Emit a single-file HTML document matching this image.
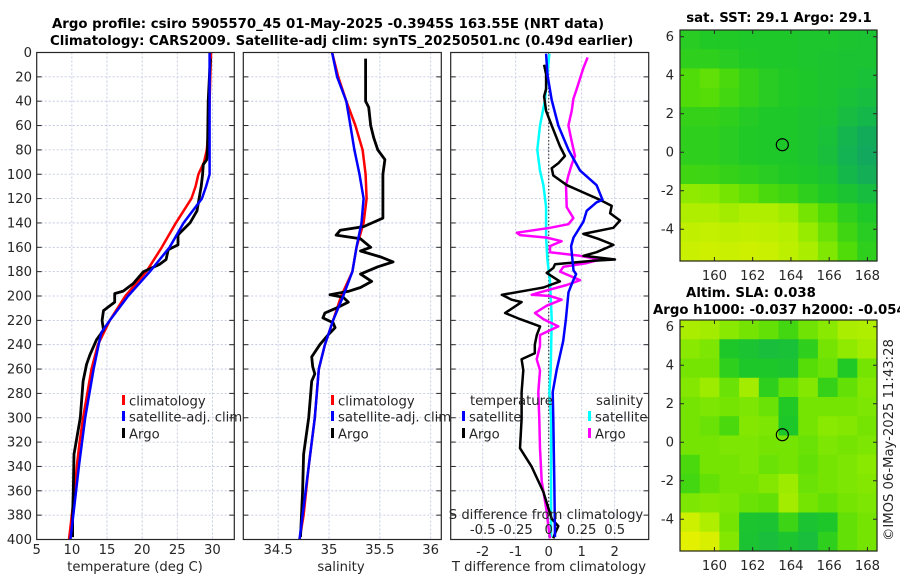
<!DOCTYPE html>
<html><head><meta charset="utf-8">
<style>
html,body{margin:0;padding:0;background:#fff;}
svg{display:block;font-family:"DejaVu Sans","Liberation Sans",sans-serif;}
.tk{font-size:13.2px;fill:#262626;}
.tt{font-size:13.3px;font-weight:bold;fill:#000;}
</style></head>
<body>
<svg id="fig" width="900" height="580" viewBox="0 0 900 580" xmlns="http://www.w3.org/2000/svg">
<rect width="900" height="580" fill="#fff"/>
<text class="tt" x="52" y="28">Argo profile: csiro 5905570_45 01-May-2025 -0.3945S 163.55E (NRT data)</text>
<text class="tt" x="50" y="45">Climatology: CARS2009. Satellite-adj clim: synTS_20250501.nc (0.49d earlier)</text>
<g id="layer"></g>
<text class="tt" x="779" y="22" text-anchor="middle">sat. SST: 29.1 Argo: 29.1</text>
<text class="tt" x="751" y="297" text-anchor="middle">Altim. SLA: 0.038</text>
<text class="tt" x="653" y="314">Argo h1000: -0.037 h2000: -0.054</text>
<text class="tk" transform="translate(893,440) rotate(-90)" text-anchor="middle">©IMOS 06-May-2025 11:43:28</text>
</svg>
<script>
// ---- data ----
const depthTicks = [0,20,40,60,80,100,120,140,160,180,200,220,240,260,280,300,320,340,360,380,400];
const tempTicks = [5,10,15,20,25,30];
const salTicks = [34.5,35,35.5,36];
const tdiffTicks = [-2,-1,0,1,2];
const sdiffTicks = [-0.5,-0.25,0,0.25,0.5];
const sdiffTickLabels = ["-0.5","-0.25","0","0.25","0.5"];

const climTDepth = [0,20,40,60,80,90,100,110,120,140,160,180,200,220,240,260,280,300,320,340,360,380,400];
const climT = [29.8,29.7,29.6,29.5,29.2,28.8,28.0,27.6,27.0,24.8,22.8,20.6,17.6,15.4,13.7,12.8,12.2,11.6,11.1,10.7,10.4,10.0,9.6];
const satTDepth = [0,50,100,110,120,140,160,180,200,220,230,240,260,280,300,340,380,400];
const satT = [29.6,29.6,29.6,29.1,28.5,25.9,23.9,21.1,18.0,15.4,14.2,13.8,13.1,12.5,11.9,11.0,10.2,9.8];
const argoTDepth = [5,40,80,88,92,100,110,130,140,148,150,158,162,170,174,180,190,196,198,205,212,220,228,236,248,256,270,300,320,330,360,380,398];
const argoT = [29.7,29.4,29.3,29.2,28.7,28.6,28.4,27.8,26.8,25.4,25.1,25.1,23.7,23.4,22.5,20.2,18.7,17.3,16.1,16.1,14.5,14.3,14.5,13.5,12.6,12.1,11.6,11.2,10.6,10.3,10.2,10.1,10.1];

const climSDepth = [0,20,40,60,80,100,120,140,160,180,200,220,240,260,300,340,380,400];
const climS = [35.03,35.09,35.17,35.26,35.33,35.36,35.37,35.34,35.27,35.23,35.12,35.04,34.96,34.90,34.86,34.80,34.75,34.71];
const satSDepth = [0,20,40,60,80,100,120,140,160,180,200,220,240,260,300,340,380,400];
const satS = [35.03,35.08,35.17,35.21,35.25,35.30,35.34,35.32,35.27,35.23,35.14,35.04,34.96,34.90,34.86,34.80,34.74,34.71];
const argoSDepth = [5,40,45,60,70,80,88,100,130,136,143,146,150,153,160,163,168,172,176,182,188,193,196,199,201,205,210,214,218,222,226,232,240,250,258,264,270,300,330,360,398];
const argoS = [35.36,35.36,35.39,35.41,35.44,35.48,35.55,35.53,35.53,35.53,35.34,35.11,35.07,35.31,35.41,35.31,35.51,35.63,35.48,35.31,35.42,35.31,35.20,35.01,35.14,35.19,35.07,34.96,34.94,35.04,35.06,34.99,34.91,34.83,34.84,34.86,34.83,34.80,34.75,34.74,34.72];

const satDTDepth = [1,18,39,60,80,97,109,121,123,130,139,152,159,179,182,188,197,219,237,261,279,301,352,398];
const satDT = [-0.08,-0.04,0.09,0.29,0.6,0.95,1.45,1.63,1.45,1.15,1.05,0.75,0.68,0.75,0.83,0.73,0.6,0.52,0.44,0.24,0.12,0.14,0.17,0.19];
const argoDTDepth = [10,18,30,36,48,60,77,85,91,95,101,109,115,121,126,132,138,144,149,153,158,164,167,170,171,174,177,181,188,193,194,199,203,205,214,219,225,232,240,247,252,261,279,301,325,340,361,383,389,395,399];
const argoDT = [-0.14,-0.08,-0.08,-0.14,-0.08,0.09,0.34,0.49,0.29,0.09,0.14,0.55,1.05,1.55,1.91,1.86,2.16,1.96,1.05,1.5,1.96,1.45,1.05,2.01,1.35,0.19,0.14,-0.06,0.34,-0.16,-0.36,-1.42,-1.12,-0.82,-1.32,-0.87,-0.26,-0.36,-0.42,-0.42,-0.82,-0.77,-0.82,-0.82,-0.87,-0.52,-0.16,0.09,0.29,0.19,0.14];
const satDSDepth = [1,18,39,60,80,97,109,127,152,170,188,219,261,279,301,352,398];
const satDS = [0.005,-0.01,-0.028,-0.066,-0.086,-0.066,-0.04,-0.02,-0.02,-0.01,0.01,0.023,0.015,0.005,0.018,0.018,0.018];
const argoDSDepth = [4,13,30,38,48,60,73,85,92,101,109,127,136,141,144,148,150,152,155,159,164,167,170,173,176,180,187,191,197,199,200,203,208,214,219,225,232,241,252,261,279,301,325,352,377,389,399];
const argoDS = [0.295,0.262,0.212,0.187,0.174,0.149,0.174,0.199,0.174,0.149,0.131,0.136,0.187,0.149,0.01,-0.242,-0.217,-0.015,0.098,0.01,0.01,0.237,0.389,0.288,0.111,0.086,0.237,0.136,-0.066,-0.129,0.01,0.098,-0.015,-0.104,-0.041,0.073,-0.066,-0.066,-0.091,-0.066,-0.079,-0.071,-0.066,-0.053,-0.015,-0.003,0.01];

const lonTicks = [160,162,164,166,168];
const latTicks = [6,4,2,0,-2,-4];
const floatLon = 163.55, floatLat = 0.39;
// map grids: 12 rows (lat 6.35 → -5.65), 10 cols (lon 158.2 → 168.5); values 0 (teal) → 1 (yellow)
const sstGrid = [
[0.38,0.36,0.36,0.35,0.35,0.34,0.33,0.33,0.32,0.30],
[0.40,0.40,0.38,0.36,0.35,0.34,0.33,0.32,0.30,0.30],
[0.50,0.55,0.48,0.42,0.38,0.36,0.34,0.32,0.30,0.28],
[0.50,0.52,0.46,0.42,0.38,0.36,0.34,0.32,0.28,0.25],
[0.42,0.42,0.40,0.37,0.35,0.34,0.32,0.30,0.24,0.20],
[0.40,0.40,0.38,0.36,0.35,0.34,0.32,0.28,0.18,0.12],
[0.40,0.40,0.38,0.36,0.35,0.34,0.32,0.26,0.16,0.10],
[0.45,0.44,0.42,0.40,0.38,0.36,0.34,0.30,0.20,0.14],
[0.70,0.68,0.62,0.55,0.48,0.45,0.40,0.36,0.30,0.25],
[0.80,0.80,0.76,0.80,0.80,0.75,0.62,0.50,0.40,0.35],
[0.85,0.86,0.84,0.85,0.84,0.82,0.72,0.58,0.45,0.38],
[0.88,0.90,0.88,0.90,0.88,0.84,0.78,0.65,0.50,0.40]];
const slaGrid = [
[0.78,0.76,0.68,0.62,0.56,0.46,0.60,0.68,0.78,0.80],
[0.68,0.64,0.34,0.30,0.26,0.28,0.40,0.62,0.70,0.76],
[0.62,0.62,0.40,0.34,0.34,0.32,0.52,0.58,0.36,0.62],
[0.66,0.74,0.58,0.76,0.40,0.56,0.66,0.42,0.56,0.66],
[0.62,0.64,0.62,0.64,0.58,0.36,0.62,0.62,0.62,0.64],
[0.62,0.58,0.48,0.66,0.64,0.34,0.62,0.68,0.66,0.62],
[0.62,0.62,0.64,0.64,0.62,0.62,0.58,0.64,0.62,0.64],
[0.48,0.62,0.62,0.64,0.58,0.62,0.56,0.62,0.64,0.68],
[0.46,0.56,0.62,0.62,0.66,0.74,0.58,0.62,0.64,0.66],
[0.64,0.66,0.64,0.58,0.56,0.76,0.62,0.56,0.62,0.64],
[0.90,0.80,0.62,0.32,0.30,0.44,0.30,0.34,0.56,0.62],
[0.98,0.94,0.66,0.30,0.26,0.32,0.26,0.40,0.56,0.62]];

// ---- layout ----
const NS = "http://www.w3.org/2000/svg";
const layer = document.getElementById('layer');
const Y0 = 52.5, Y1 = 539.5;
const yDepth = d => Y0 + d * (Y1 - Y0) / 400;
const P1 = {x0:36.7, x1:234.3}, P2 = {x0:243.3, x1:441.3}, P3 = {x0:450.7, x1:648.7};
const xTemp = t => P1.x0 + (t - 5) * 7.03;
const xSal = s => 329 + (s - 35) * 101.7;
const xTD = v => 548.7 + v * 33;
const xSD = v => 548.7 + v * 132;
const M = {x0:680, x1:877, lon0:158.2, lon1:168.5};
const xLon = l => M.x0 + (l - M.lon0) * (M.x1 - M.x0) / (M.lon1 - M.lon0);
const MAP1 = {y0:30, y1:261}, MAP2 = {y0:320, y1:551};
const yLatF = m => l => m.y0 + (6.35 - l) * (m.y1 - m.y0) / 12;

function el(tag, attrs, parent) {
  const e = document.createElementNS(NS, tag);
  for (const k in attrs) e.setAttribute(k, attrs[k]);
  (parent || layer).appendChild(e);
  return e;
}
function txt(x, y, s, anchor, cls) {
  const t = el('text', {x:x, y:y, 'text-anchor':anchor || 'middle', class:cls || 'tk'});
  t.textContent = s;
  return t;
}
function line(xs, ds, xf, color, w, name) {
  const pts = xs.map((v, i) => xf(v).toFixed(1) + ',' + yDepth(ds[i]).toFixed(1)).join(' ');
  const p = el('polyline', {points:pts, fill:'none', stroke:color, 'stroke-width':w, 'stroke-linejoin':'round'});
  
  
  return p;
}
function panel(P, xt, xf, name) {
  const g = el('g', {});
  
  
  depthTicks.forEach(d => {
    if (d > 0 && d < 400) el('line', {x1:P.x0, x2:P.x1, y1:yDepth(d), y2:yDepth(d), stroke:'#b8c0dc', 'stroke-width':0.8, 'stroke-dasharray':'2,2'}, g);
    el('line', {x1:P.x0, x2:P.x0 + 5, y1:yDepth(d), y2:yDepth(d), stroke:'#262626', 'stroke-width':1}, g);
    el('line', {x1:P.x1 - 5, x2:P.x1, y1:yDepth(d), y2:yDepth(d), stroke:'#262626', 'stroke-width':1}, g);
  });
  xt.forEach(v => {
    const x = xf(v);
    if (x > P.x0 + 1 && x < P.x1 - 1) el('line', {x1:x, x2:x, y1:Y0, y2:Y1, stroke:'#b8c0dc', 'stroke-width':0.8, 'stroke-dasharray':'2,2'}, g);
  });
  return g;
}
function frame(P, name) {
  const r = el('rect', {x:P.x0, y:Y0, width:P.x1 - P.x0, height:Y1 - Y0, fill:'none', stroke:'#262626', 'stroke-width':1.2});
  
  
}
function legendItem(x, y, color, label, name) {
  const g = el('g', {});
  
  
  el('rect', {x:x, y:y - 6, width:3, height:10, fill:color}, g);
  const t = el('text', {x:x + 7, y:y + 4.5, class:'tk'}, g);
  t.textContent = label;
}

// panel 1: temperature
panel(P1, tempTicks, xTemp, 'temperature-grid');
depthTicks.forEach(d => {
  const t = txt(32, yDepth(d) + 4.5, String(d), 'end');
  
  
});
tempTicks.forEach(v => {
  const t = txt(xTemp(v), 554, String(v));
  
  
});
const tl1 = txt(135, 571, 'temperature (deg C)');


line(climT, climTDepth, xTemp, '#ff0000', 2.5, 'climatology-temperature-line');
line(argoT, argoTDepth, xTemp, '#000000', 2.8, 'argo-temperature-line');
line(satT, satTDepth, xTemp, '#0000ff', 2.5, 'satellite-temperature-line');
legendItem(122, 401, '#ff0000', 'climatology', 'legend-climatology');
legendItem(122, 417, '#0000ff', 'satellite-adj. clim', 'legend-satellite-adj');
legendItem(122, 434, '#000000', 'Argo', 'legend-argo');
frame(P1, 'temperature-panel-frame');

// panel 2: salinity
panel(P2, salTicks, xSal, 'salinity-grid');
salTicks.forEach(v => {
  const t = txt(xSal(v), 554, String(v));
  
  
});
const tl2 = txt(341, 571, 'salinity');


line(climS, climSDepth, xSal, '#ff0000', 2.5, 'climatology-salinity-line');
line(argoS, argoSDepth, xSal, '#000000', 2.8, 'argo-salinity-line');
line(satS, satSDepth, xSal, '#0000ff', 2.5, 'satellite-salinity-line');
legendItem(331, 401, '#ff0000', 'climatology', 'legend-climatology-2');
legendItem(331, 417, '#0000ff', 'satellite-adj. clim', 'legend-satellite-adj-2');
legendItem(331, 434, '#000000', 'Argo', 'legend-argo-2');
frame(P2, 'salinity-panel-frame');

// panel 3: differences
panel(P3, tdiffTicks, xTD, 'difference-grid');
el('line', {x1:xTD(0), x2:xTD(0), y1:Y0, y2:Y1, stroke:'#444', 'stroke-width':1.2, 'stroke-dasharray':'1.5,2'});
tdiffTicks.forEach(v => {
  const t = txt(xTD(v), 556, String(v));
  
  
});
const tl3 = txt(549, 571, 'T difference from climatology');


line(satDS, satDSDepth, xSD, '#00ffff', 2.5, 'satellite-salinity-difference-line');
line(argoDS, argoDSDepth, xSD, '#ff00ff', 2.5, 'argo-salinity-difference-line');
line(argoDT, argoDTDepth, xTD, '#000000', 2.5, 'argo-temperature-difference-line');
line(satDT, satDTDepth, xTD, '#0000ff', 2.5, 'satellite-temperature-difference-line');
const st = txt(546, 519, 'S difference from climatology');


sdiffTicks.forEach((v, i) => {
  const t = txt(xSD(v), 534, sdiffTickLabels[i]);
  
  
});
const lt1 = txt(470, 405, 'temperature', 'start');


const lt2 = txt(596, 405, 'salinity', 'start');


legendItem(462, 417, '#0000ff', 'satellite', 'legend-temperature-satellite');
legendItem(462, 434, '#000000', 'Argo', 'legend-temperature-argo');
legendItem(588, 417, '#00ffff', 'satellite', 'legend-salinity-satellite');
legendItem(588, 434, '#ff00ff', 'Argo', 'legend-salinity-argo');
frame(P3, 'difference-panel-frame');

// maps
const stops = [[0,[15,152,112]],[0.2,[20,184,74]],[0.35,[30,200,40]],[0.5,[80,220,8]],[0.7,[144,234,0]],[0.85,[192,240,0]],[1,[232,240,0]]];
function cmap(v) {
  for (let i = 1; i < stops.length; i++) {
    if (v <= stops[i][0]) {
      const a = stops[i-1], b = stops[i], f = (v - a[0]) / (b[0] - a[0]);
      return 'rgb(' + a[1].map((c, j) => Math.round(c + (b[1][j] - c) * f)).join(',') + ')';
    }
  }
  return 'rgb(232,240,0)';
}
function drawMap(m, grid, name) {
  const yLat = yLatF(m);
  const g = el('g', {});
  
  
  const rows = grid.length, cols = grid[0].length;
  const cw = (M.x1 - M.x0) / cols, ch = (m.y1 - m.y0) / rows;
  grid.forEach((row, r) => row.forEach((v, c) => {
    const cell = el('rect', {x:(M.x0 + c * cw).toFixed(2), y:(m.y0 + r * ch).toFixed(2), width:(cw + 0.6).toFixed(2), height:(ch + 0.6).toFixed(2), fill:cmap(v)}, g);
    
    
  }));
  el('rect', {x:M.x0, y:m.y0, width:M.x1 - M.x0, height:m.y1 - m.y0, fill:'none', stroke:'#262626', 'stroke-width':1.2}, g);
  latTicks.forEach(l => {
    const y = yLat(l);
    el('line', {x1:M.x0, x2:M.x0 + 4, y1:y, y2:y, stroke:'#262626'}, g);
    el('line', {x1:M.x1 - 4, x2:M.x1, y1:y, y2:y, stroke:'#262626'}, g);
    const t = txt(674, y + 4.5, String(l), 'end');
    
    
  });
  lonTicks.forEach(l => {
    const x = xLon(l);
    el('line', {x1:x, x2:x, y1:m.y1, y2:m.y1 - 4, stroke:'#262626'}, g);
    el('line', {x1:x, x2:x, y1:m.y0, y2:m.y0 + 4, stroke:'#262626'}, g);
    const t = txt(x, m.y1 + 19, String(l));
    
    
  });
  const mk = el('ellipse', {cx:xLon(floatLon), cy:yLat(floatLat), rx:6, ry:6, fill:'none', stroke:'#000', 'stroke-width':1.2}, g);
  
  
}
drawMap(MAP1, sstGrid, 'sst-map');
drawMap(MAP2, slaGrid, 'sla-map');
</script>
</body></html>
